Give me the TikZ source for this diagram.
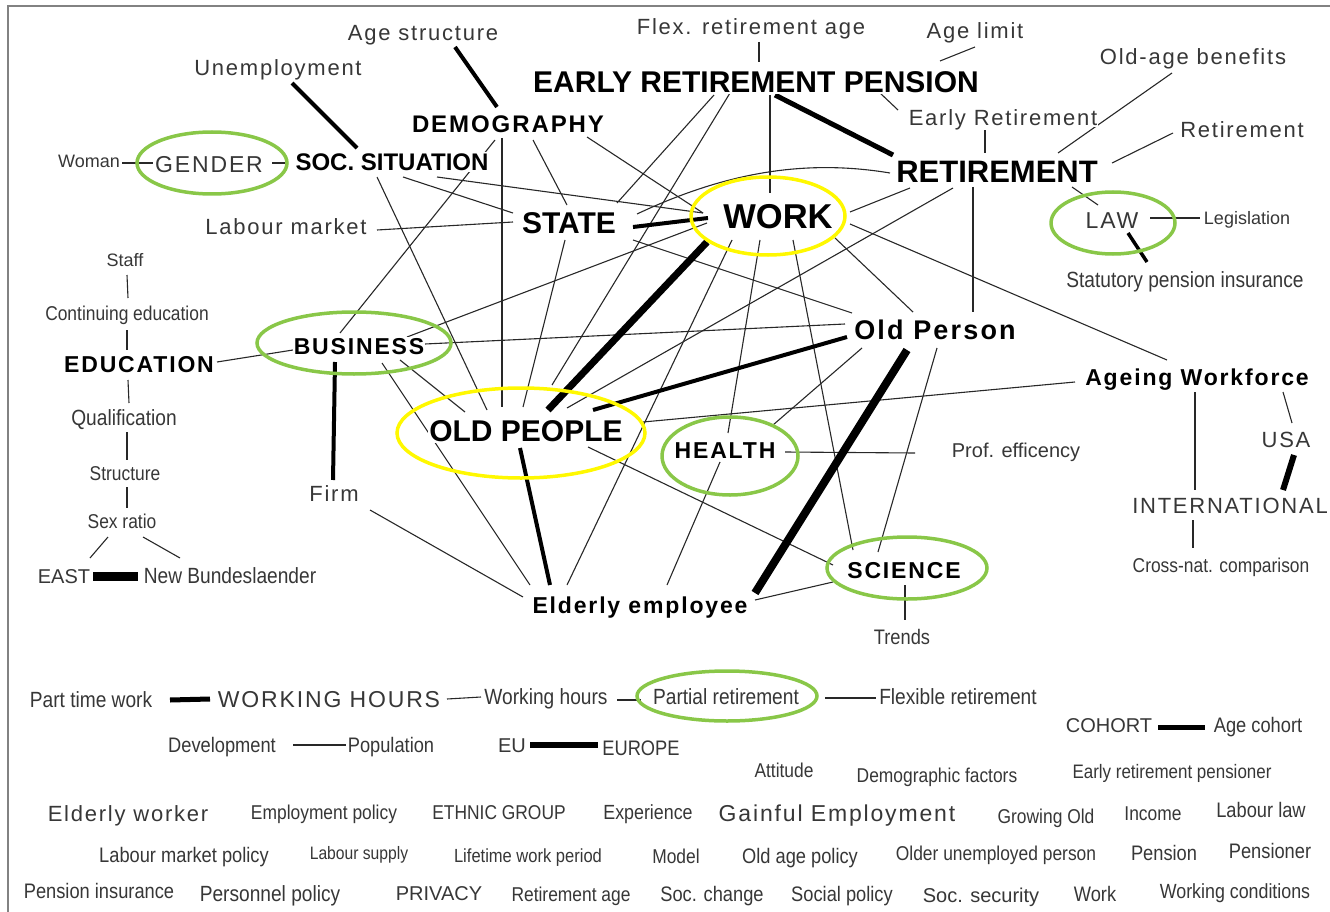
\documentclass[tikz,border=0pt]{standalone}
\usepackage{fontspec}
\setmainfont{Liberation Sans}
\newfontfamily\widefont[LetterSpace=8]{Liberation Sans}
\newfontfamily\condfont[FakeStretch=0.87]{Liberation Sans}
\newcommand\fsz[1]{\fontsize{#1}{#1}\selectfont}
\usetikzlibrary{backgrounds}
\definecolor{txtgray}{RGB}{55,55,55}
\definecolor{linegray}{RGB}{40,40,40}
\definecolor{ringgreen}{RGB}{137,199,72}
\definecolor{ringyellow}{RGB}{255,248,0}
\definecolor{framegray}{RGB}{130,130,130}

\begin{document}
\begin{tikzpicture}[x=1pt, y=-1pt,
  term/.style={inner sep=1pt, outer sep=0pt, fill=white, text depth=0pt},
  reglab/.style={term, text=txtgray, font=\fsz{#1}, text height={0.72*#1}},
  widelab/.style={term, text=txtgray, font=\widefont\fsz{#1}, text height={0.72*#1}},
  condlab/.style={term, text=txtgray, font=\condfont\fsz{#1}, text height={0.72*#1}},
  boldlab/.style={term, text=black, font=\bfseries\fsz{#1}, text height={0.72*#1}},
  boldwidelab/.style={term, text=black, font=\widefont\bfseries\fsz{#1}, text height={0.72*#1}},
  link/.style={draw=linegray, line width=1.1pt},
  heavylink/.style={draw=black, line width=#1},
  yellowring/.style={draw=ringyellow, line width=3.5pt},
  greenring/.style={draw=ringgreen, line width=3.5pt}]
\useasboundingbox (0,0) rectangle (1330,912);
\draw[framegray, line width=1.5pt] (8,912) -- (8,6) -- (1330,6);

\draw
(423, 33) node[widelab=22](agestr){Age structure}
(278, 68) node[widelab=22](unemp){Unemployment}
(751, 27) node[widelab=22](flex){Flex. retirement age}
(975, 31) node[widelab=22](agelimit){Age limit}
(1193, 57) node[widelab=22](oldage){Old-age benefits}
(756, 82) node[boldlab=30](erp){EARLY RETIREMENT PENSION}
(508, 124) node[boldwidelab=24](demo){DEMOGRAPHY}
(1003, 118) node[widelab=22](earlyret){Early Retirement}
(1242, 130) node[widelab=22](retire){Retirement}
(89, 161) node[reglab=18](woman){Woman}
(209, 164) node[widelab=23](gender){GENDER}
(392, 162) node[boldlab=24](soc){SOC. SITUATION}
(997, 171) node[boldlab=31](ret){RETIREMENT}
(286, 227) node[widelab=22](labour){Labour market}
(569, 223) node[boldlab=30](state){STATE}
(778, 216) node[boldlab=34.5](work){WORK}
(1112, 220) node[widelab=23](law){LAW}
(1247, 218) node[reglab=18](legis){Legislation}
(125, 260) node[reglab=18](staff){Staff}
(1185, 280) node[condlab=22](statutory){Statutory pension insurance}
(127, 313) node[condlab=20](conted){Continuing education}
(935, 330) node[boldwidelab=27](oldperson){Old Person}
(359, 346) node[boldwidelab=23](business){BUSINESS}
(139, 364) node[boldwidelab=23](educ){EDUCATION}
(1197, 377) node[boldwidelab=23](ageing){Ageing Workforce}
(124, 418) node[condlab=22](qual){Qualification}
(526, 431) node[boldlab=30](oldpeople){OLD PEOPLE}
(725, 450) node[boldwidelab=23](health){HEALTH}
(1016, 450) node[reglab=20](prof){Prof. efficency}
(1286, 440) node[widelab=22](usa){USA}
(125, 473) node[condlab=20](struct){Structure}
(334, 494) node[widelab=22](firm){Firm}
(1230, 506) node[widelab=22](intl){INTERNATIONAL}
(122, 521) node[condlab=20](sexratio){Sex ratio}
(64, 576) node[reglab=20](east){EAST}
(230, 576) node[condlab=22](newbl){New Bundeslaender}
(904, 570) node[boldwidelab=23](science){SCIENCE}
(1221, 565) node[condlab=20](cross){Cross-nat. comparison}
(640, 605) node[boldwidelab=23](elderly){Elderly employee}
(902, 637) node[condlab=21](trends){Trends}

(91, 700) node[condlab=22](parttime){Part time work}
(329, 699) node[widelab=23](workhrs){WORKING HOURS}
(546, 697) node[condlab=22](workhours){Working hours}
(726, 697) node[condlab=22](partial){Partial retirement}
(958, 697) node[condlab=22](flexret){Flexible retirement}
(222, 745) node[condlab=21](devel){Development}
(391, 745) node[condlab=21](popul){Population}
(512, 745) node[reglab=20](eu){EU}
(641, 748) node[condlab=21](europe){EUROPE}
(1109, 725) node[reglab=20](cohort){COHORT}
(1258, 725) node[condlab=21](agecohort){Age cohort}
(784, 770) node[condlab=20](attitude){Attitude}
(937, 775) node[condlab=20](demfac){Demographic factors}
(1172, 771) node[condlab=19.5](erpens){Early retirement pensioner}
(128, 814) node[widelab=22](eworker){Elderly worker}
(324, 812) node[condlab=20](emppol){Employment policy}
(499, 812) node[condlab=20](ethnic){ETHNIC GROUP}
(648, 812) node[condlab=20.5](exper){Experience}
(837, 813) node[widelab=23](gainful){Gainful Employment}
(1046, 816) node[condlab=20](growing){Growing Old}
(1153, 813) node[condlab=20](income){Income}
(1261, 810) node[condlab=21](labourlaw){Labour law}
(184, 855) node[condlab=21](lmpol){Labour market policy}
(359, 853) node[condlab=18](lsupply){Labour supply}
(528, 856) node[condlab=19](lifetime){Lifetime work period}
(676, 856) node[condlab=20](model){Model}
(800, 856) node[condlab=21](oldpol){Old age policy}
(996, 853) node[condlab=20](olderun){Older unemployed person}
(1164, 853) node[condlab=21](pension){Pension}
(1270, 851) node[condlab=21](pensioner){Pensioner}
(99, 891) node[condlab=21](pensins){Pension insurance}
(270, 894) node[condlab=22](perspol){Personnel policy}
(439, 893) node[reglab=20](privacy){PRIVACY}
(571, 894) node[condlab=20](retage){Retirement age}
(712, 894) node[condlab=21](socchange){Soc. change}
(842, 894) node[condlab=21](socpol){Social policy}
(981, 895) node[reglab=20](socsec){Soc. security}
(1095, 894) node[condlab=21](worknode){Work}
(1235, 891) node[condlab=20.5](workcond){Working conditions};

\begin{pgfonlayer}{background}
\draw[link] ([shift={(8,15)}]flex.center) -- ([shift={(3,-20)}]erp.center);
\draw[link] ([shift={(0,16)}]agelimit.center) -- ([shift={(184,-21)}]erp.center);
\draw[link] ([shift={(124,11)}]erp.center) -- ([shift={(-105,-8)}]earlyret.center);
\draw[heavylink=5pt] ([shift={(19,13)}]erp.center) -- ([shift={(-104,-16)}]ret.center);
\draw[link] ([shift={(14,13)}]erp.center) -- ([shift={(-8,-23)}]work.center);
\draw[link] ([shift={(-42,13)}]erp.center) -- ([shift={(48,-20)}]state.center);
\draw[link] ([shift={(-26,11)}]erp.center) -- ([shift={(26,-46)}]oldpeople.center);
\draw[heavylink=4pt] ([shift={(32,14)}]agestr.center) -- ([shift={(-11,-17)}]demo.center);
\draw[heavylink=4pt] ([shift={(14,15)}]unemp.center) -- ([shift={(-35,-14)}]soc.center);
\draw[link] ([shift={(33,2)}]woman.center) -- ([shift={(-56,-1)}]gender.center);
\draw[link] ([shift={(63,-1)}]gender.center) -- ([shift={(-106,1)}]soc.center);
\draw[link] ([shift={(-13,16)}]demo.center) -- ([shift={(-19,-13)}]business.center);
\draw[link] ([shift={(-6,14)}]demo.center) -- ([shift={(-24,-24)}]oldpeople.center);
\draw[link] ([shift={(25,16)}]demo.center) -- ([shift={(-2,-18)}]state.center);
\draw[link] ([shift={(79,13)}]demo.center) -- ([shift={(-75,-3)}]work.center);
\draw[link] ([shift={(-15,15)}]soc.center) -- ([shift={(-39,-21)}]oldpeople.center);
\draw[link] ([shift={(11,15)}]soc.center) -- ([shift={(-56,-10)}]state.center);
\draw[link] ([shift={(45,15)}]soc.center) -- ([shift={(-75,-3)}]work.center);
\draw[link] ([shift={(91,3)}]labour.center) -- ([shift={(-56,-1)}]state.center);
\draw[heavylink=4pt] ([shift={(64,4)}]state.center) -- ([shift={(-70,2)}]work.center);
\draw[link] ([shift={(68,-9)}]state.center) .. controls +(83,-39) and +(-90,-15) .. ([shift={(-107,2)}]ret.center);
\draw[link] ([shift={(64,17)}]state.center) -- ([shift={(-83,-17)}]oldperson.center);
\draw[link] ([shift={(-4,17)}]state.center) -- ([shift={(-3,-24)}]oldpeople.center);
\draw[link] ([shift={(48,-9)}]business.center) -- ([shift={(-71,7)}]work.center);
\draw[link] ([shift={(66,-2)}]business.center) -- ([shift={(-90,-6)}]oldperson.center);
\draw[link] ([shift={(-66,4)}]business.center) -- ([shift={(78,-2)}]educ.center);
\draw[heavylink=4pt] ([shift={(-24,16)}]business.center) -- ([shift={(-1,-14)}]firm.center);
\draw[link] ([shift={(41,14)}]business.center) -- ([shift={(-61,-19)}]oldpeople.center);
\draw[link] ([shift={(23,17)}]business.center) -- ([shift={(-110,-20)}]elderly.center);
\draw[link] ([shift={(36,16)}]firm.center) -- ([shift={(-117,-8)}]elderly.center);
\draw[heavylink=4pt] ([shift={(-6,17)}]oldpeople.center) -- ([shift={(-90,-20)}]elderly.center);
\draw[link] ([shift={(-46,24)}]work.center) -- ([shift={(-73,-20)}]elderly.center);
\draw[heavylink=7pt] ([shift={(-71,26)}]work.center) -- ([shift={(22,-21)}]oldpeople.center);
\draw[link] ([shift={(-18,24)}]work.center) -- ([shift={(3,-17)}]health.center);
\draw[link] ([shift={(15,24)}]work.center) -- ([shift={(-51,-20)}]science.center);
\draw[link] ([shift={(72,-4)}]work.center) -- ([shift={(-87,17)}]ret.center);
\draw[link] ([shift={(57,22)}]work.center) -- ([shift={(-22,-18)}]oldperson.center);
\draw[link] ([shift={(72,8)}]work.center) -- ([shift={(-30,-17)}]ageing.center);
\draw[link] ([shift={(41,-23)}]oldpeople.center) -- ([shift={(-44,17)}]ret.center);
\draw[link] ([shift={(-24,16)}]ret.center) -- ([shift={(38,-18)}]oldperson.center);
\draw[heavylink=4pt] ([shift={(67,-21)}]oldpeople.center) -- ([shift={(-88,7)}]oldperson.center);
\draw[link] ([shift={(117,-9)}]oldpeople.center) -- ([shift={(-122,5)}]ageing.center);
\draw[link] ([shift={(62,16)}]oldpeople.center) -- ([shift={(-71,-5)}]science.center);
\draw[link] ([shift={(48,-25)}]health.center) -- ([shift={(-73,18)}]oldperson.center);
\draw[link] ([shift={(60,2)}]health.center) -- ([shift={(-101,3)}]prof.center);
\draw[link] ([shift={(-5,12)}]health.center) -- ([shift={(27,-20)}]elderly.center);
\draw[heavylink=8pt] ([shift={(-28,20)}]oldperson.center) -- ([shift={(115,-12)}]elderly.center);
\draw[link] ([shift={(2,18)}]oldperson.center) -- ([shift={(-26,-18)}]science.center);
\draw[link] ([shift={(115,-5)}]elderly.center) -- ([shift={(-71,12)}]science.center);
\draw[link] ([shift={(1,15)}]science.center) -- ([shift={(3,-17)}]trends.center);
\draw[link] ([shift={(-12,-18)}]ret.center) -- ([shift={(-18,12)}]earlyret.center);
\draw[link] ([shift={(61,-18)}]ret.center) -- ([shift={(-21,16)}]oldage.center);
\draw[link] ([shift={(115,-8)}]ret.center) -- ([shift={(-69,3)}]retire.center);
\draw[link] ([shift={(75,16)}]ret.center) -- ([shift={(-14,-15)}]law.center);
\draw[link] ([shift={(38,-2)}]law.center) -- ([shift={(-47,0)}]legis.center);
\draw[heavylink=3.5pt] ([shift={(16,13)}]law.center) -- ([shift={(-38,-18)}]statutory.center);
\draw[link] ([shift={(-2,15)}]ageing.center) -- ([shift={(-35,-16)}]intl.center);
\draw[link] ([shift={(86,15)}]ageing.center) -- ([shift={(6,-17)}]usa.center);
\draw[heavylink=6pt] ([shift={(8,15)}]usa.center) -- ([shift={(53,-16)}]intl.center);
\draw[link] ([shift={(-37,14)}]intl.center) -- ([shift={(-28,-17)}]cross.center);
\draw[link] ([shift={(2,15)}]staff.center) -- ([shift={(1,-15)}]conted.center);
\draw[link] ([shift={(0,17)}]conted.center) -- ([shift={(-12,-14)}]educ.center);
\draw[link] ([shift={(-11,16)}]educ.center) -- ([shift={(5,-15)}]qual.center);
\draw[link] ([shift={(3,14)}]qual.center) -- ([shift={(2,-13)}]struct.center);
\draw[link] ([shift={(2,14)}]struct.center) -- ([shift={(5,-13)}]sexratio.center);
\draw[link] ([shift={(-14,16)}]sexratio.center) -- ([shift={(26,-18)}]east.center);
\draw[link] ([shift={(21,16)}]sexratio.center) -- ([shift={(-50,-18)}]newbl.center);
\draw[heavylink=9pt] ([shift={(29,0)}]east.center) -- ([shift={(-92,0)}]newbl.center);
\draw[heavylink=5pt] ([shift={(79,0)}]parttime.center) -- ([shift={(-119,0)}]workhrs.center);
\draw[link] ([shift={(118,0)}]workhrs.center) -- ([shift={(-65,0)}]workhours.center);
\draw[link] ([shift={(71,3)}]workhours.center) -- ([shift={(-85,3)}]partial.center);
\draw[link] ([shift={(99,1)}]partial.center) -- ([shift={(-82,1)}]flexret.center);
\draw[link] ([shift={(71,0)}]devel.center) -- ([shift={(-45,0)}]popul.center);
\draw[heavylink=6pt] ([shift={(18,0)}]eu.center) -- ([shift={(-43,-3)}]europe.center);
\draw[heavylink=5pt] ([shift={(49,2)}]cohort.center) -- ([shift={(-53,2)}]agecohort.center);
\end{pgfonlayer}

\draw[greenring] ([shift={(3,-1)}]gender.center) ellipse [x radius=75pt, y radius=31pt];
\draw[yellowring] ([shift={(-10,0)}]work.center) ellipse [x radius=77pt, y radius=39pt];
\draw[greenring] ([shift={(1,3)}]law.center) ellipse [x radius=62pt, y radius=31pt];
\draw[greenring] ([shift={(-5,-3)}]business.center) ellipse [x radius=97pt, y radius=31pt];
\draw[yellowring] ([shift={(-5,2)}]oldpeople.center) ellipse [x radius=124pt, y radius=45pt];
\draw[greenring] ([shift={(5,6)}]health.center) ellipse [x radius=68pt, y radius=39pt];
\draw[greenring] ([shift={(3,-2)}]science.center) ellipse [x radius=80pt, y radius=31pt];
\draw[greenring] ([shift={(1,-1)}]partial.center) ellipse [x radius=90pt, y radius=25pt];
\end{tikzpicture}
\end{document}
